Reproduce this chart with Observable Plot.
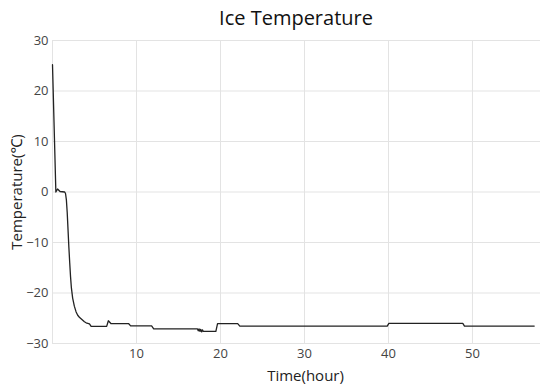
<!DOCTYPE html>
<html>
<head>
<meta charset="utf-8">
<script src="https://cdn.jsdelivr.net/npm/d3@7"></script>
<script src="https://cdn.jsdelivr.net/npm/@observablehq/plot@0.6"></script>
<style>
  html, body { margin: 0; padding: 0; background: #fff; }
  #wrap { position: relative; width: 540px; height: 385px; font-family: "Open Sans", "Noto Sans", sans-serif; }
  #title { position: absolute; top: 4px; left: 52px; width: 488px; text-align: center; font-size: 20px; color: #111; }
</style>
</head>
<body>
<div id="wrap">
  <div id="chart"></div>
  <div id="title">Ice Temperature</div>
</div>
<script>
const title = "Ice Temperature";
const xLabel = "Time(hour)";
const yLabel = "Temperature(℃)";
const xTicks = [10, 20, 30, 40, 50];
const xGrid = [0, 10, 20, 30, 40, 50];
const yTicks = [-30, -20, -10, 0, 10, 20, 30];

const hours = [0, 0.4, 0.6, 0.9, 1.45, 1.55, 1.65, 1.75, 1.85, 1.95, 2.05, 2.15, 2.25, 2.4, 2.6, 2.8, 3.0, 3.2, 3.4, 3.6, 3.8, 4.0, 4.2, 4.4, 4.6, 6.45, 6.65, 6.95, 9.05, 9.3, 11.8, 12.05, 17.25, 17.35, 17.45, 17.55, 17.65, 17.75, 17.85, 17.95, 18.05, 19.45, 19.65, 22.05, 22.3, 39.85, 40.05, 48.85, 49.05, 57.35];
const temps = [25.2, 0.0, 0.6, 0.1, 0.0, -0.3, -1.5, -4, -7.5, -11, -14, -16.8, -19, -21, -22.6, -23.7, -24.4, -24.8, -25.1, -25.4, -25.7, -25.9, -26.0, -26.1, -26.6, -26.6, -25.5, -26.05, -26.05, -26.5, -26.5, -27.1, -27.1, -27.5, -27.1, -27.6, -27.2, -27.7, -27.3, -27.6, -27.6, -27.6, -26.05, -26.05, -26.55, -26.55, -26.0, -26.0, -26.55, -26.55];

const data = hours.map((h, i) => ({h, t: temps[i]}));

const chart = Plot.plot({
  width: 540,
  height: 385,
  marginLeft: 52,
  marginRight: 0,
  marginTop: 40,
  marginBottom: 42,
  style: {fontFamily: '"Open Sans", "Noto Sans", sans-serif', fontSize: "13px", color: "#444", background: "#fff"},
  x: {domain: [0, 58.1]},
  y: {domain: [-30, 30]},
  marks: [
    Plot.gridX(xGrid, {stroke: "#e3e3e3", strokeOpacity: 1}),
    Plot.gridY(yTicks, {stroke: "#e3e3e3", strokeOpacity: 1}),
    Plot.axisX(xTicks, {tickSize: 0, tickPadding: 5, label: null, fontSize: 13}),
    Plot.axisY(yTicks, {tickSize: 0, tickPadding: 4, label: null, fontSize: 13}),
    Plot.line(data, {x: "h", y: "t", stroke: "#222", strokeWidth: 1.3}),
    Plot.text([xLabel], {frameAnchor: "bottom", lineAnchor: "bottom", dy: 37, dx: 9, fontSize: 15, fill: "#222"}),
    Plot.text([yLabel], {frameAnchor: "left", textAnchor: "middle", dx: -35, rotate: -90, fontSize: 15, fill: "#222"})
  ]
});
document.getElementById("chart").appendChild(chart);
document.getElementById("title").textContent = title;
</script>
</body>
</html>
